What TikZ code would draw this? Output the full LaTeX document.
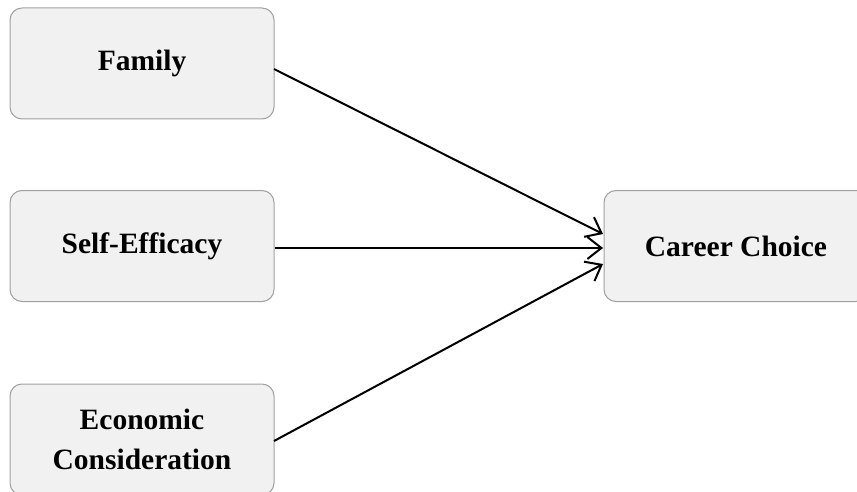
\documentclass[tikz,border=0pt]{standalone}
\usepackage{fontspec}
\setmainfont{Liberation Serif}
\usetikzlibrary{arrows.meta}
\definecolor{boxfill}{RGB}{241,241,241}
\definecolor{boxline}{RGB}{160,160,160}
\begin{document}
\begin{tikzpicture}[x=1pt,y=-1pt,
  factor/.style={draw=boxline, line width=1pt, fill=boxfill, rounded corners=12pt,
    minimum width=264pt, minimum height=111pt, align=center, inner sep=0pt,
    font=\fontsize{29.5}{40}\selectfont\bfseries},
  link/.style={line width=2pt, -{Straight Barb[length=14pt,width=22pt,line width=2pt]}}]
\useasboundingbox (0,0) rectangle (857,492);
\node[factor] (fam) at (142,63.5) {Family};
\node[factor] (self) at (142,246) {Self-Efficacy};
\node[factor] (eco) at (142,439.5) {Economic\\Consideration};
\node[factor] (car) at (736,246) {Career Choice};
\coordinate (c1) at (603,234);
\coordinate (c2) at (603,248);
\coordinate (c3) at (603,264);
\draw[link] (274,69) -- (c1);
\draw[link] (self.east |- c2) -- (c2);
\draw[link] (274,441) -- (c3);
\end{tikzpicture}
\end{document}
